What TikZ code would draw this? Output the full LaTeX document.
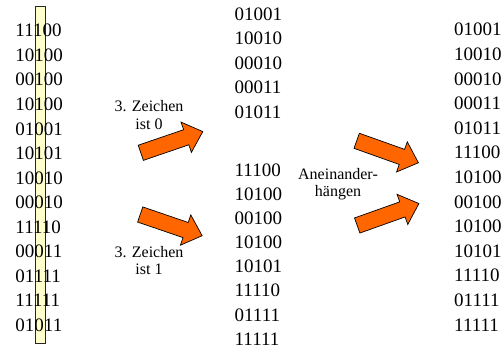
\documentclass[tikz,border=0pt]{standalone}
\usepackage{fontspec}
\setmainfont{Liberation Serif}
\definecolor{arrowfill}{RGB}{255,102,0}
\definecolor{hlfill}{RGB}{255,255,204}
\tikzset{
  bits/.style={anchor=base west, inner sep=0pt, font=\fontsize{19}{24}\selectfont},
  lbl/.style={align=center, inner sep=0pt, font=\fontsize{16}{17.5}\selectfont},
  hlbox/.style={draw=black!85, fill=hlfill, line width=0.7pt},
  blockarrow/.style={draw=black, fill=arrowfill, line width=0.7pt, line join=miter},
  barrow/.pic={\draw[blockarrow] (0,-8) -- (48,-8) -- (48,-16) -- (65.5,0) -- (48,16) -- (48,8) -- (0,8) -- cycle;}
}
\begin{document}
\begin{tikzpicture}[x=1pt,y=-1pt]
\useasboundingbox (0,0) rectangle (501,353);
% highlighted third column
\node[hlbox, anchor=north west, minimum width=10pt, minimum height=336.5pt, inner sep=0pt] (hl) at (35,6) {};
% left column
\foreach \t [count=\i from 0] in {11100,10100,00100,10100,01001,10101,10010,00010,11110,00011,01111,11111,01011}
  \node[bits] (L\i) at (15.3,{36.9+24.55*\i}) {\t};
% middle column, top group
\foreach \t [count=\i from 0] in {01001,10010,00010,00011,01011}
  \node[bits] (M\i) at (234.5,{20.4+24.5*\i}) {\t};
% middle column, bottom group
\foreach \t [count=\i from 0] in {11100,10100,00100,10100,10101,11110,01111,11111}
  \node[bits] (N\i) at (234.5,{176.4+24.1*\i}) {\t};
% right column
\foreach \t [count=\i from 0] in {01001,10010,00010,00011,01011,11100,10100,00100,10100,10101,11110,01111,11111}
  \node[bits] (R\i) at (454,{35.9+24.6*\i}) {\t};
% labels
\node[lbl] (z0) at (149,115) {3. Zeichen\\ist 0};
\node[lbl] (z1) at (149,260.5) {3. Zeichen\\ist 1};
\node[lbl] (an) at (338,184) {Aneinander-\\hängen};
% block arrows
\pic (a0) [rotate=18.9] at (140.8,152.8) {barrow};
\pic (a1) [rotate=-18.9] at (140.2,214.5) {barrow};
\pic (a2) [rotate=-19.6] at (356.7,140.8) {barrow};
\pic (a3) [rotate=19.6] at (357.2,225.5) {barrow};
\end{tikzpicture}
\end{document}
